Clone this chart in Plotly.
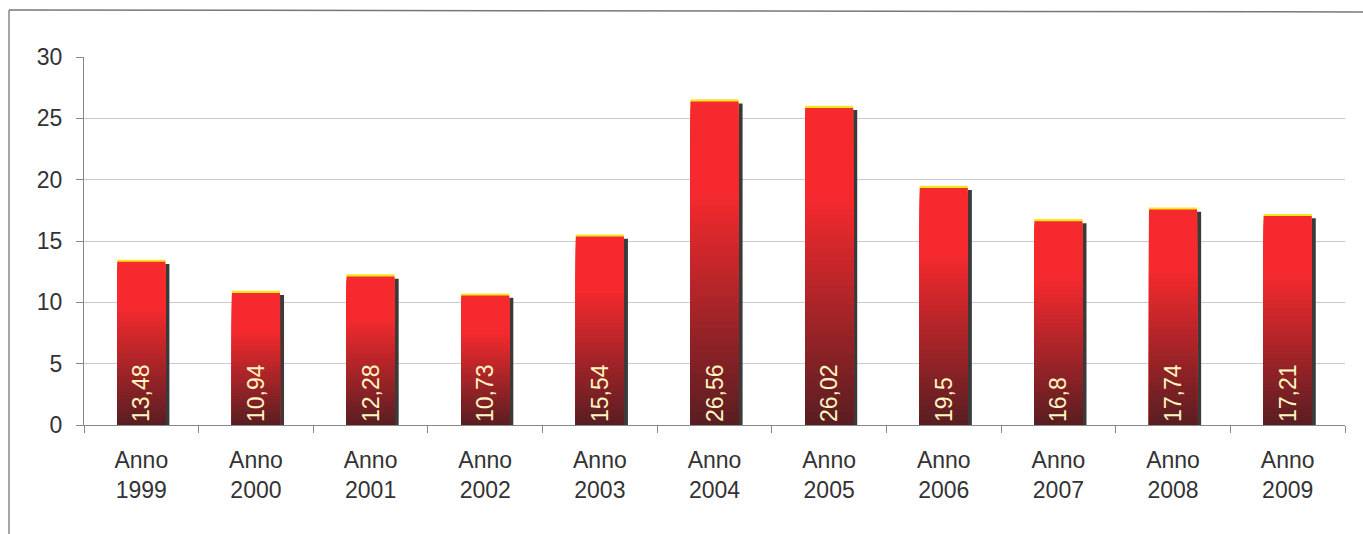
import plotly.graph_objects as go

categories = ["Anno<br>1999", "Anno<br>2000", "Anno<br>2001", "Anno<br>2002", "Anno<br>2003",
              "Anno<br>2004", "Anno<br>2005", "Anno<br>2006", "Anno<br>2007", "Anno<br>2008", "Anno<br>2009"]
values = [13.48, 10.94, 12.28, 10.73, 15.54, 26.56, 26.02, 19.5, 16.8, 17.74, 17.21]
value_labels = ["13,48", "10,94", "12,28", "10,73", "15,54", "26,56", "26,02", "19,5", "16,8", "17,74", "17,21"]
y_ticks = [0, 5, 10, 15, 20, 25, 30]

FONT = "Arial, 'Liberation Sans', sans-serif"
W = 0.42
TOP = (246, 42, 46)
BOT = (88, 30, 34)
N = 50
CAP = 0.18

def grad_color(f):
    # f: 0 bottom -> 1 top
    t = min(1.0, f / 0.72)
    c = [round(BOT[i] + (TOP[i] - BOT[i]) * t) for i in range(3)]
    return f"rgb({c[0]},{c[1]},{c[2]})"

fig = go.Figure()

# shadow
fig.add_trace(go.Bar(x=categories, y=[v - 0.35 for v in values], width=W, offset=-W / 2 + 0.035,
                     marker=dict(color="#3a3a3a", line=dict(width=0)), hoverinfo="skip", showlegend=False))
# yellow cap
fig.add_trace(go.Bar(x=categories, y=values, width=W, offset=-W / 2,
                     marker=dict(color="#f5e61e", line=dict(width=0)), hoverinfo="skip", showlegend=False))
# gradient layers
for k in range(N):
    frac = 1 - k / N
    fig.add_trace(go.Bar(x=categories, y=[(v - CAP) * frac for v in values], width=W, offset=-W / 2,
                         marker=dict(color=grad_color(frac - 0.5 / N), line=dict(width=0)),
                         hoverinfo="skip", showlegend=False))
# labels
fig.add_trace(go.Bar(x=categories, y=values, width=W, offset=-W / 2,
                     marker=dict(color="rgba(0,0,0,0)", line=dict(width=0)),
                     text=value_labels, textposition="inside", insidetextanchor="start",
                     textangle=-90, textfont=dict(family=FONT, size=23, color="#fff6c0"),
                     cliponaxis=False, showlegend=False))

left_px, right_px, top_px, zero_px = 84, 1345, 57, 425
pw = right_px - left_px
ph = zero_px - top_px

def px(x):
    return (x - left_px) / pw

def py(y):
    return (zero_px - y) / ph

fig.update_layout(
    width=1363, height=534,
    margin=dict(l=left_px, r=1363 - right_px, t=top_px, b=534 - zero_px),
    barmode="overlay",
    paper_bgcolor="white", plot_bgcolor="white",
    font=dict(family=FONT, size=23, color="#333333"),
    uniformtext=dict(minsize=23, mode="show"),
    xaxis=dict(showgrid=False, showline=True, linecolor="#888888", linewidth=1,
               ticks="outside", tickson="boundaries", ticklen=7, tickcolor="#888888",
               ticklabelstandoff=14,
               tickfont=dict(size=23, color="#333333")),
    yaxis=dict(range=[0, 30], tickvals=y_ticks, showgrid=True, gridcolor="#c9cad8", gridwidth=1,
               showline=True, linecolor="#888888", linewidth=1, ticks="outside", ticklen=7,
               ticklabelstandoff=9,
               tickcolor="#888888", zeroline=False, tickfont=dict(size=23, color="#333333")),
    shapes=[
        dict(type="line", xref="paper", yref="paper", x0=px(9), x1=px(9), y0=py(534), y1=py(10),
             line=dict(color="#888888", width=1.5)),
        dict(type="line", xref="paper", yref="paper", x0=px(9), x1=px(1363), y0=py(10), y1=py(12),
             line=dict(color="#777777", width=1.5)),
    ],
)

fig.write_html("out.html")
